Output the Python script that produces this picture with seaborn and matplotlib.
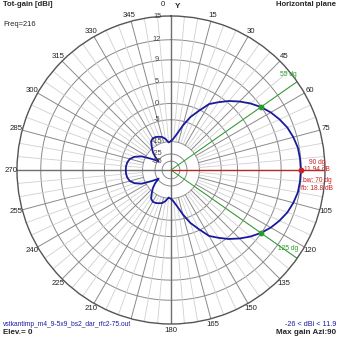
import numpy as np
import pandas as pd
import matplotlib
matplotlib.use("Agg")
import matplotlib.pyplot as plt
from matplotlib.transforms import offset_copy
import seaborn as sns

# Azimuth (deg, clockwise from Y) and total gain (dBi) in the horizontal plane
azimuth = list(range(0, 360, 5))
gain_dbi = [
    -14.8, -13.0, -10.2, -6.5, -3.0, -0.4, 2.4, 3.9, 5.4, 6.7, 7.9, 8.94,
    9.8, 10.5, 11.1, 11.5, 11.8, 11.9, 11.94, 11.9, 11.8, 11.5, 11.1, 10.5,
    9.8, 8.94, 7.9, 6.7, 5.4, 3.9, 2.4, -0.4, -3.0, -6.5, -10.2, -13.0,
    -14.8, -15.5, -13.2, -11.8, -11.2, -10.7, -10.6, -11.5, -14.2, -16.8, -20.5, -26.0,
    -19.5, -12.8, -9.6, -7.9, -7.2, -6.9, -6.86, -6.9, -7.2, -7.9, -9.6, -12.8,
    -19.5, -26.0, -20.5, -16.8, -14.2, -11.5, -10.6, -10.7, -11.2, -11.8, -13.2, -15.5,
]

# Gain rings (dBi) of the log scale and the azimuth labels
ring_values = [15, 12, 9, 5, 0, -5, -15, -25, -35]
ring_labels = ["15", "12", "9", "5", "0", "-5", "-15", "-25", "-35"]
azimuth_ticks = [a for a in range(15, 360, 15) if a not in (90, 195)]

# Beam markers
max_gain = 11.94
max_azi = 90
bw_edges = [55, 125]
bw_gain = 8.94
beamwidth = 70
front_back = 18.8
gain_min, gain_max = -26, 11.9

sns.set_style("white")
plt.rcParams["font.family"] = ["Liberation Sans", "DejaVu Sans"]

W = H = 339
fig = plt.figure(figsize=(W / 100, H / 100), dpi=100)
fig.patch.set_facecolor("white")

cx, cy, R = 171, 170, 154
ax = fig.add_axes([(cx - R) / W, (H - cy - R) / H, 2 * R / W, 2 * R / H],
                  projection="polar")
ax.set_theta_zero_location("N")
ax.set_theta_direction(-1)

# ARRL-style log radial scale: ~0.946 radius factor per dB below the outer ring
K = 0.946
TOP = 15
BOTTOM = -80
ax.set_rscale("function", functions=(lambda g: K ** (TOP - np.asarray(g, float)),
                                     lambda r: TOP - np.log(np.asarray(r, float)) / np.log(K)))
ax.set_rlim(BOTTOM, TOP)
ax.grid(False)
ax.set_xticks([])
ax.set_yticks([])
ax.spines["polar"].set_color("#555555")
ax.spines["polar"].set_linewidth(1.0)
ax.set_facecolor("white")

ring_col = "#8a8a8a"
minor_col = "#d0d0d0"
full = np.linspace(0, 2 * np.pi, 361)
for v in ring_values[1:]:
    ax.plot(full, np.full_like(full, v), color=ring_col, lw=0.7, zorder=1)

for a in range(0, 360, 5):
    t = np.radians(a)
    if a % 90 == 0:
        ax.plot([t, t], [BOTTOM, TOP], color="#707070", lw=1.0, zorder=1.5)
    elif a % 15 == 0:
        ax.plot([t, t], [-15, TOP], color=ring_col, lw=0.7, zorder=1.2)
    else:
        ax.plot([t, t], [-15, TOP], color=minor_col, lw=0.6, zorder=1)

# Beamwidth and max-gain lines
green = "#2a9a2a"
red = "#cc2020"
for a in bw_edges:
    ax.plot([np.radians(a)] * 2, [BOTTOM, TOP], color=green, lw=0.7, zorder=2)
ax.plot([np.radians(max_azi)] * 2, [BOTTOM, TOP + 0.3], color=red, lw=0.8, zorder=2)

# Pattern
theta = np.radians(azimuth + [azimuth[0]])
df = pd.DataFrame({"theta": theta, "gain": gain_dbi + [gain_dbi[0]]})
sns.lineplot(data=df, x="theta", y="gain", sort=False, estimator=None,
             color="#1a1a9c", lw=1.3, ax=ax, zorder=3)
ax.set_xlabel("")
ax.set_ylabel("")
ax.set_rlim(BOTTOM, TOP)

ax.scatter(np.radians(bw_edges), [bw_gain] * 2, s=10, color=green, zorder=4)
ax.scatter([np.radians(max_azi)], [max_gain], s=10, color=red, zorder=4)

# Ring labels just left of the Y axis
lab_tr = offset_copy(ax.transData, fig=fig, x=-14, y=0, units="dots")
for v, s in zip(ring_values, ring_labels):
    ax.text(0, v, s, transform=lab_tr, ha="center", va="center",
            fontsize=5.3, color="#444444", zorder=5)

# Azimuth labels around the rim
def px(x, y):
    return x / W, 1 - y / H

for a in azimuth_ticks:
    t = np.radians(a)
    x = cx + 160 * np.sin(t)
    y = cy - 160 * np.cos(t)
    fig.text(*px(x, y), str(a), ha="center", va="center", fontsize=5.6, color="#222222")
fig.text(*px(163, 5), "0", ha="center", va="center", fontsize=5.6, color="#222222")
fig.text(*px(178, 6), "Y", ha="center", va="center", fontsize=5.8, color="#222222",
         fontweight="bold")

# Beam annotations
fs_note = 4.8
fig.text(*px(288, 75), f"{bw_edges[0]} dg", ha="center", va="center", fontsize=fs_note, color=green)
fig.text(*px(288, 249), f"{bw_edges[1]} dg", ha="center", va="center", fontsize=fs_note, color=green)
fig.text(*px(317, 162), f"{max_azi} dg", ha="center", va="center", fontsize=fs_note, color=red)
fig.text(*px(317, 169.5), f"{max_gain:.2f} dB", ha="center", va="center", fontsize=fs_note, color=red)
fig.text(*px(317, 180), f"bw: {beamwidth} dg", ha="center", va="center", fontsize=fs_note, color=red)
fig.text(*px(317, 189), f"fb: {front_back} dB", ha="center", va="center", fontsize=fs_note, color=red)

# Header and footer
fig.text(*px(3, 5), "Tot-gain [dBi]", ha="left", va="center", fontsize=5.6, fontweight="bold")
fig.text(*px(3, 25), "Freq=216", ha="left", va="center", fontsize=5.4)
fig.text(*px(336, 5), "Horizontal plane", ha="right", va="center", fontsize=5.6, fontweight="bold")
fig.text(*px(3, 324), "vstkantimp_m4_9-5x9_bs2_dar_rfc2-75.out", ha="left", va="center",
         fontsize=4.8, color="#1a1aa0")
fig.text(*px(3, 333), "Elev.= 0", ha="left", va="center", fontsize=5.8, fontweight="bold")
fig.text(*px(336, 324), f"{gain_min} < dBi < {gain_max}", ha="right", va="center",
         fontsize=5.2, color="#1a1aa0")
fig.text(*px(336, 333), f"Max gain Azi:{max_azi}", ha="right", va="center",
         fontsize=5.8, fontweight="bold")

fig.savefig("out.png", dpi=100, facecolor="white")
